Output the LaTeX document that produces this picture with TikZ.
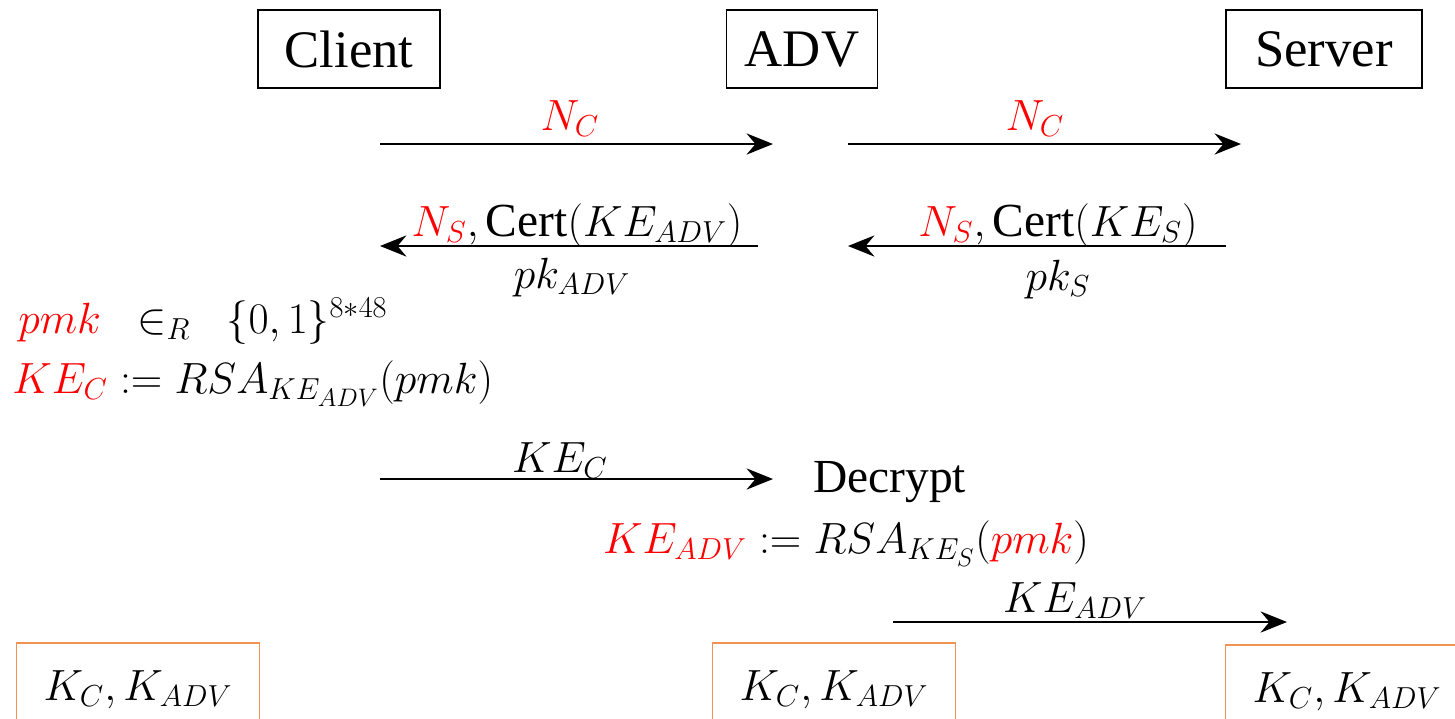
\documentclass[tikz,border=0pt]{standalone}
\usepackage{fontspec}
\setmainfont{Liberation Serif}
\usetikzlibrary{arrows.meta}
\definecolor{keyred}{RGB}{255,0,0}
\definecolor{boxorange}{RGB}{241,146,80}
\begin{document}
\begin{tikzpicture}[x=0.02cm,y=-0.02cm,
  party/.style={draw=black, line width=0.8pt, minimum height=1.56cm, inner sep=0pt,
    font=\fontsize{30}{34}\selectfont},
  msg/.style={line width=1.6pt, -{Stealth[length=15pt,width=12pt,inset=5pt]}},
  lbl/.style={font=\fontsize{27}{31}\selectfont, inner sep=0pt},
  keybox/.style={draw=boxorange, line width=1pt, minimum width=4.86cm, minimum height=2cm,
    inner sep=0pt, text height=16pt, text depth=8pt, font=\fontsize{24}{28}\selectfont},
]
\useasboundingbox (0,0) rectangle (1455,718);
\clip (0,0) rectangle (1455,718);

% the three parties
\node[party, minimum width=3.64cm] (client) at (349,49) {Client};
\node[party, minimum width=3.02cm] (adv)    at (802,49) {ADV};
\node[party, minimum width=3.92cm] (server) at (1324,49) {Server};

% arrow end points
\coordinate (c1) at (380,144);  \coordinate (a1) at (773,144);
\coordinate (a2) at (848,144);  \coordinate (s2) at (1241,144);
\coordinate (a3) at (758,246);  \coordinate (c3) at (380,246);
\coordinate (s4) at (1226,246); \coordinate (a4) at (848,246);
\coordinate (c5) at (380,479);  \coordinate (a5) at (773,479);
\coordinate (a6) at (893,622);  \coordinate (s6) at (1287,622);

% nonce exchange
\draw[msg] (c1) -- (a1);
\node[lbl, anchor=base] (nc1) at (570,130) {$\color{keyred}N_C$};
\draw[msg] (a2) -- (s2);
\node[lbl, anchor=base] (nc2) at (1035,130) {$\color{keyred}N_C$};

% certificates
\draw[msg] (a3) -- (c3);
\node[lbl, anchor=base] (certadv) at (577,236) {$\color{keyred}N_S\color{black}, \mathrm{Cert}(KE_{ADV})$};
\node[lbl, anchor=base] (pkadv) at (572,288) {$pk_{ADV}$};
\draw[msg] (s4) -- (a4);
\node[lbl, anchor=base] (certs) at (1058,236) {$\color{keyred}N_S\color{black}, \mathrm{Cert}(KE_S)$};
\node[lbl, anchor=base] (pks) at (1058,290) {$pk_S$};

% client side computation
\node[lbl, anchor=base west] (pmk) at (18,333)
  {$\color{keyred}pmk\color{black}\;\;\in_R\;\;\{0,1\}^{8*48}$};
\node[lbl, anchor=base west] (kec) at (12,393)
  {$\color{keyred}KE_C\color{black} \mathrel{:=} RSA_{KE_{ADV}}(pmk)$};

% key exchange, client to ADV
\draw[msg] (c5) -- (a5);
\node[lbl, anchor=base] (kecl) at (560,472) {$KE_C$};
\node[lbl, anchor=base west] (decrypt) at (813,492) {Decrypt};
\node[lbl, anchor=base] (keadv) at (846,553)
  {$\color{keyred}KE_{ADV}\color{black} \mathrel{:=} RSA_{KE_S}(\color{keyred}pmk\color{black})$};

% key exchange, ADV to server
\draw[msg] (a6) -- (s6);
\node[lbl, anchor=base] (keadvl) at (1075,612) {$KE_{ADV}$};

% resulting keys
\node[keybox] (kclient) at (138,693) {$K_C, K_{ADV}$};
\node[keybox] (kadv)    at (834,693) {$K_C, K_{ADV}$};
\node[keybox] (kserver) at (1347,695) {$K_C, K_{ADV}$};
\end{tikzpicture}
\end{document}
